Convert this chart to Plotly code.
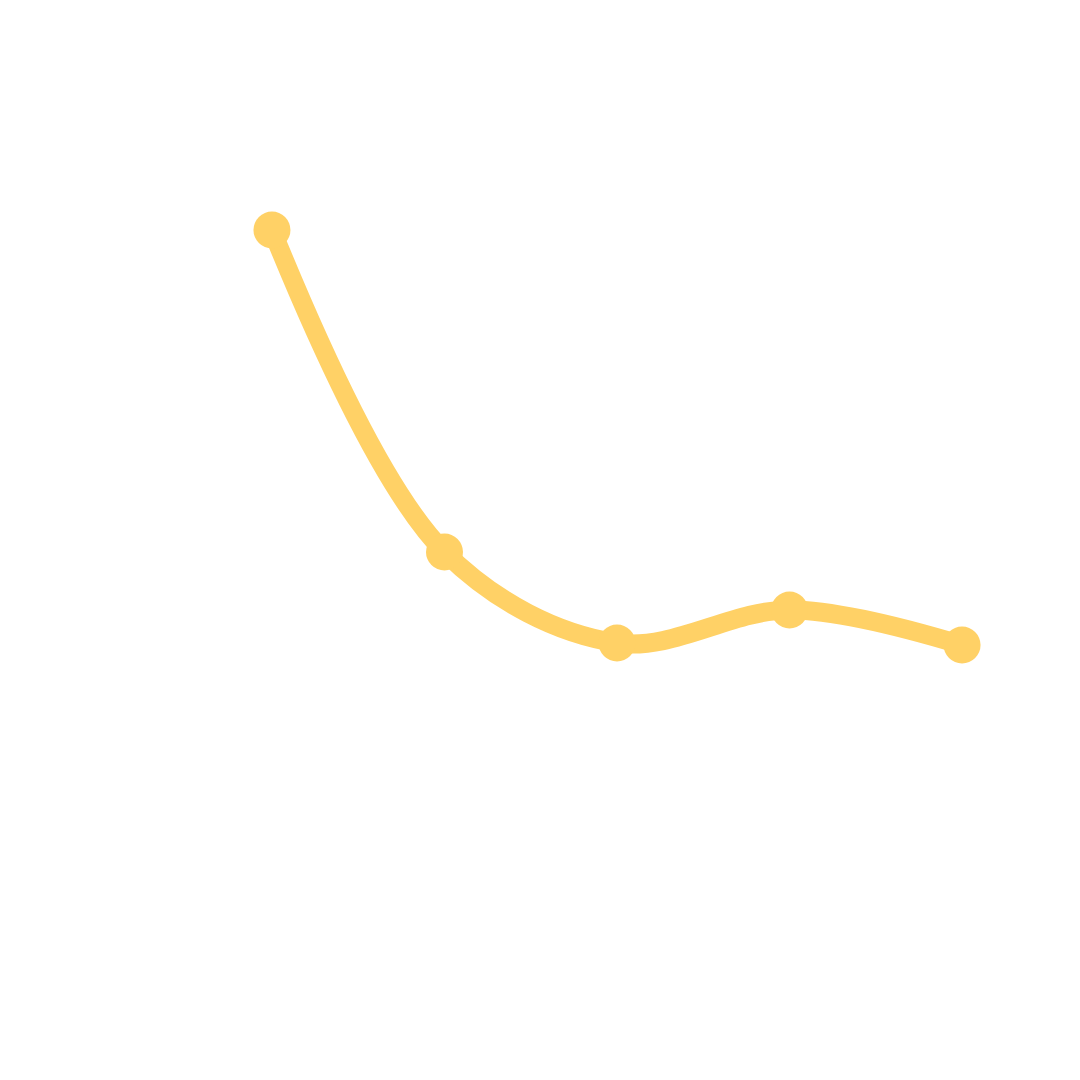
import plotly.graph_objects as go

# ===========================================================
# DATA
# ===========================================================
categories = ["A", "B", "C", "D", "E"]
values = [64, 31.8, 22.7, 26, 22.5]

LINE_COLOR = "#FFD166"

# ===========================================================
# FIGURE
# ===========================================================
fig = go.Figure()

fig.add_trace(go.Scatter(
    x=categories,
    y=values,
    mode="lines+markers",
    line=dict(color=LINE_COLOR, width=19, shape="spline"),
    marker=dict(color=LINE_COLOR, size=37),
    hoverinfo="skip",
    showlegend=False
))

fig.update_layout(
    width=1080,
    height=1080,
    margin=dict(l=0, r=0, t=0, b=0),
    paper_bgcolor="white",
    plot_bgcolor="white",
    xaxis=dict(type="category", range=[-1.530, 4.730], visible=False),
    yaxis=dict(range=[-21.8, 86.2], visible=False),
)

fig.write_html("out.html")
